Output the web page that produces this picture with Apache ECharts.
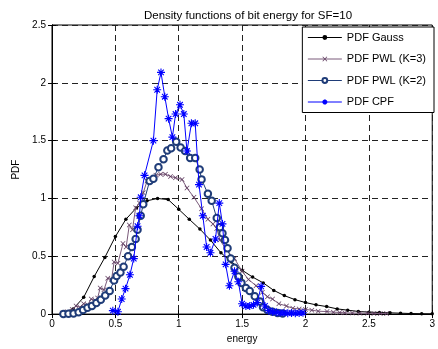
<!DOCTYPE html>
<html><head><meta charset="utf-8">
<script src="https://cdn.jsdelivr.net/npm/echarts@6/dist/echarts.min.js"></script>
<style>html,body{margin:0;padding:0;background:#fff}#c{width:438px;height:349px}</style>
</head><body><div id="c"></div>
<script>
const titleText = 'Density functions of bit energy for SF=10';
const xTicks = [0, 0.5, 1, 1.5, 2, 2.5, 3];
const yTicks = [0, 0.5, 1, 1.5, 2, 2.5];
const seriesNames = ['PDF Gauss', 'PDF PWL (K=3)', 'PDF PWL (K=2)', 'PDF CPF'];

const gaussX = [0.083,0.167,0.25,0.333,0.417,0.5,0.583,0.667,0.75,0.833,0.917,1.0,1.083,1.167,1.25,1.333,1.417,1.5,1.583,1.667,1.75,1.833,1.917,2.0,2.083,2.167,2.25,2.333,2.417,2.5,2.583,2.667,2.75,2.833,2.917,3.0];
const gaussY = [0.01,0.045,0.145,0.325,0.49,0.67,0.82,0.92,0.98,1.0,0.99,0.906,0.82,0.735,0.64,0.53,0.45,0.38,0.32,0.27,0.205,0.16,0.125,0.10,0.08,0.065,0.045,0.034,0.023,0.017,0.014,0.011,0.008,0.005,0.003,0.002];

const pwl3X = [0.08,0.12,0.16,0.19,0.22,0.25,0.28,0.31,0.34,0.36,0.38,0.41,0.44,0.47,0.49,0.52,0.56,0.585,0.61,0.635,0.66,0.69,0.72,0.75,0.79,0.82,0.857,0.895,0.935,0.974,1.026,1.065,1.12,1.18,1.23,1.27,1.30,1.325,1.38,1.44,1.50,1.55,1.61,1.66,1.70,1.74,1.79,1.85,1.90,1.95,2.0,2.05,2.10,2.17,2.22,2.27,2.31,2.37,2.43,2.49,2.54,2.59,2.64];
const pwl3Y = [0.01,0.02,0.04,0.07,0.06,0.09,0.08,0.13,0.12,0.14,0.225,0.21,0.31,0.30,0.45,0.44,0.61,0.58,0.77,0.73,0.92,0.96,1.05,1.15,1.17,1.20,1.21,1.21,1.19,1.18,1.165,1.09,1.01,0.91,0.82,0.78,0.74,0.64,0.55,0.48,0.37,0.30,0.245,0.19,0.15,0.13,0.09,0.07,0.05,0.045,0.04,0.034,0.025,0.022,0.017,0.014,0.011,0.009,0.008,0.007,0.006,0.005,0.005];

const pwl2X = [0.09,0.13,0.17,0.21,0.245,0.28,0.315,0.35,0.385,0.42,0.455,0.49,0.51,0.54,0.565,0.60,0.63,0.66,0.675,0.70,0.72,0.77,0.80,0.84,0.88,0.91,0.94,0.98,1.015,1.05,1.09,1.13,1.165,1.18,1.23,1.26,1.30,1.325,1.345,1.365,1.385,1.41,1.44,1.47,1.495,1.53,1.56,1.60,1.64,1.665,1.70,1.74,1.78,1.82];
const pwl2Y = [0.0,0.002,0.006,0.015,0.035,0.055,0.07,0.095,0.125,0.16,0.20,0.29,0.33,0.36,0.41,0.50,0.58,0.65,0.73,0.85,0.95,1.15,1.17,1.27,1.34,1.415,1.435,1.49,1.44,1.41,1.35,1.35,1.25,1.165,1.04,0.98,0.83,0.75,0.70,0.64,0.57,0.48,0.40,0.325,0.27,0.225,0.20,0.155,0.11,0.06,0.035,0.02,0.01,0.005];

const cpfX = [0.48,0.52,0.55,0.58,0.615,0.645,0.675,0.69,0.70,0.73,0.80,0.83,0.86,0.89,0.92,0.95,0.975,1.01,1.04,1.065,1.10,1.13,1.16,1.19,1.22,1.25,1.29,1.32,1.345,1.37,1.40,1.44,1.47,1.50,1.53,1.56,1.59,1.62,1.65,1.68,1.71,1.74,1.77,1.80,1.83,1.86,1.89,1.92,1.95,1.98];
const cpfY = [0.03,0.02,0.13,0.22,0.34,0.48,0.76,0.85,1.01,1.20,1.50,1.94,2.09,1.88,1.69,1.53,1.73,1.81,1.73,1.41,1.65,1.65,1.12,0.85,0.58,0.53,0.65,0.96,0.78,0.43,0.245,0.37,0.28,0.09,0.07,0.07,0.08,0.10,0.24,0.07,0.03,0.02,0.015,0.01,0.012,0.008,0.01,0.008,0.01,0.012];

const zip = (xs, ys) => xs.map((x, i) => [x, ys[i]]);
const FONT = 'Liberation Sans';
const xSym = 'path://M0,1L1,0L5,4L9,0L10,1L6,5L10,9L9,10L5,6L1,10L0,9L4,5Z';
const starSym = 'path://M5,0L5,10M0,5L10,5M1.5,1.5L8.5,8.5M8.5,1.5L1.5,8.5';

const chart = echarts.init(document.getElementById('c'), null, {renderer: 'canvas'});
const gridLine = {show: true, lineStyle: {color: '#222', type: [6, 4], width: 1}};
chart.setOption({
  animation: false,
  backgroundColor: '#fff',
  title: {text: titleText, left: 243, top: 5, textAlign: 'center',
    textStyle: {fontFamily: FONT, fontSize: 11.5, fontWeight: 'normal', color: '#000'}},
  grid: {left: 52, right: 2, top: 25, bottom: 31, show: true, borderColor: '#000', borderWidth: 1},
  legend: {
    orient: 'vertical', right: 4, top: 27, backgroundColor: '#fff',
    borderColor: '#000', borderWidth: 1, padding: [5, 8, 5, 5],
    itemWidth: 34, itemHeight: 6, itemGap: 10.5,
    lineStyle: {width: 1},
    textStyle: {fontFamily: FONT, fontSize: 11, color: '#000'},
    data: seriesNames
  },
  xAxis: [{
    type: 'value', min: 0, max: 3, interval: 0.5,
    name: 'energy', nameLocation: 'middle', nameGap: 17,
    nameTextStyle: {fontFamily: FONT, fontSize: 10, color: '#000'},
    axisLine: {show: true, lineStyle: {color: '#000'}},
    axisTick: {show: true, inside: true, length: 4, lineStyle: {color: '#000'}},
    axisLabel: {fontFamily: FONT, fontSize: 10, color: '#000', margin: 5,
      formatter: v => String(xTicks.find(t => Math.abs(t - v) < 1e-9) ?? v)},
    splitLine: gridLine
  }, {
    type: 'value', min: 0, max: 3, interval: 0.5, position: 'top',
    axisLine: {show: true, lineStyle: {color: '#000'}},
    axisTick: {show: true, inside: true, length: 4, lineStyle: {color: '#000'}},
    axisLabel: {show: false}, splitLine: {show: false}
  }],
  yAxis: [{
    type: 'value', min: 0, max: 2.5, interval: 0.5,
    name: 'PDF', nameLocation: 'middle', nameGap: 30,
    nameTextStyle: {fontFamily: FONT, fontSize: 10, color: '#000'},
    axisLine: {show: true, lineStyle: {color: '#000'}},
    axisTick: {show: true, inside: true, length: 4, lineStyle: {color: '#000'}},
    axisLabel: {fontFamily: FONT, fontSize: 10, color: '#000', margin: 6,
      formatter: v => String(yTicks.find(t => Math.abs(t - v) < 1e-9) ?? v)},
    splitLine: gridLine
  }, {
    type: 'value', min: 0, max: 2.5, interval: 0.5, position: 'right',
    axisLine: {show: true, lineStyle: {color: '#000'}},
    axisTick: {show: true, inside: true, length: 4, lineStyle: {color: '#000'}},
    axisLabel: {show: false}, splitLine: {show: false}
  }],
  series: [
    {name: seriesNames[0], type: 'line', data: zip(gaussX, gaussY), symbol: 'circle', symbolSize: 3.5,
      itemStyle: {color: '#000'}, lineStyle: {color: '#000', width: 1}, z: 2},
    {name: seriesNames[1], type: 'line', data: zip(pwl3X, pwl3Y), symbol: xSym, symbolSize: 5,
      itemStyle: {color: '#5e3a5e'}, lineStyle: {color: '#7a5a7a', width: 1}, z: 3},
    {name: seriesNames[2], type: 'line', data: zip(pwl2X, pwl2Y), symbol: 'emptyCircle', symbolSize: 6.5,
      itemStyle: {color: '#1f3c78', borderColor: '#1f3c78', borderWidth: 0.8}, lineStyle: {color: '#1f3c78', width: 1}, z: 4},
    {name: seriesNames[3], type: 'line', data: zip(cpfX, cpfY), symbol: starSym, symbolSize: 8,
      itemStyle: {color: '#0000ff', borderColor: '#0000ff', borderWidth: 1.1}, lineStyle: {color: '#0000ff', width: 1}, z: 5}
  ]
});
</script></body></html>
